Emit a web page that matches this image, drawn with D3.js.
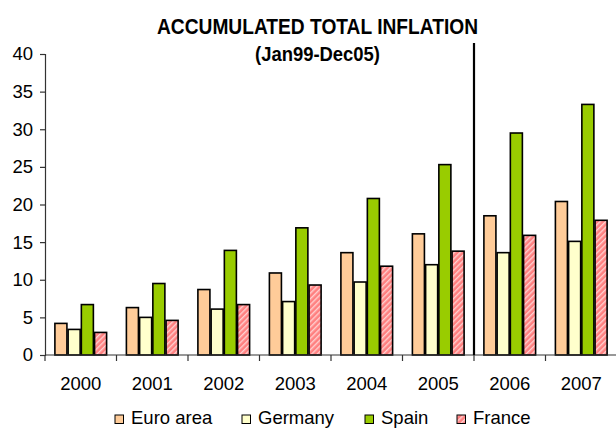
<!DOCTYPE html>
<html>
<head>
<meta charset="utf-8">
<script src="https://cdn.jsdelivr.net/npm/d3@7/dist/d3.min.js"></script>
<style>
  html, body { margin: 0; padding: 0; background: #fff; }
  svg { display: block; }
  text { font-family: "Liberation Sans", Arial, sans-serif; fill: #000; }
</style>
</head>
<body>
<svg id="chart" width="616" height="428"></svg>
<script>
// Accumulated total inflation (%), by year
const years = ["2000", "2001", "2002", "2003", "2004", "2005", "2006", "2007"];
const seriesNames = ["Euro area", "Germany", "Spain", "France"];
const euroArea = [4.2, 6.3, 8.7, 10.9, 13.6, 16.1, 18.5, 20.4];
const germany  = [3.4, 5.0, 6.1, 7.1, 9.7, 12.0, 13.6, 15.1];
const spain    = [6.7, 9.5, 13.9, 16.9, 20.8, 25.3, 29.5, 33.3];
const france   = [3.0, 4.6, 6.7, 9.3, 11.8, 13.8, 15.9, 17.9];
const yTicks = [0, 5, 10, 15, 20, 25, 30, 35, 40];
const forecastFrom = "2006";

const seriesValues = [euroArea, germany, spain, france];
const fills = ["#FFCC99", "#FFFFCC", "#99CC00", "url(#hatch)"];

const svg = d3.select("#chart");
const margin = { left: 45, right: -1, top: 54, bottom: 73 };
const W = 616, H = 428;

// striped fill for France
const defs = svg.append("defs");
const pat = defs.append("pattern")
  .attr("id", "hatch").attr("patternUnits", "userSpaceOnUse")
  .attr("width", 4).attr("height", 4)
  .attr("patternTransform", "rotate(45)");
pat.append("rect").attr("width", 4).attr("height", 4).attr("fill", "#FF8080");
pat.append("rect").attr("x", 0).attr("width", 1.4).attr("height", 4).attr("fill", "#FFD0D0");

const x0 = d3.scaleBand().domain(years)
  .range([margin.left, W - margin.right])
  .paddingInner(0.26).paddingOuter(0.13);
const x1 = d3.scaleBand().domain(seriesNames).range([0, x0.bandwidth()]);
const y = d3.scaleLinear().domain([0, 40]).range([H - margin.bottom, margin.top]);

// bars
const groups = svg.append("g").selectAll("g")
  .data(years).join("g")
  .attr("transform", d => `translate(${x0(d)},0)`);
groups.selectAll("rect")
  .data((yr, i) => seriesNames.map((s, k) => ({ s, k, v: seriesValues[k][i] })))
  .join("rect")
  .attr("x", d => x1(d.s) + 0.6)
  .attr("width", x1.bandwidth() - 1.2)
  .attr("y", d => y(d.v))
  .attr("height", d => y(0) - y(d.v))
  .attr("fill", d => fills[d.k])
  .attr("stroke", "#000")
  .attr("stroke-width", 1.6);

// y axis
const yAxis = svg.append("g")
  .attr("transform", `translate(${margin.left},0)`)
  .call(d3.axisLeft(y).tickValues(yTicks).tickSize(5).tickPadding(7));
yAxis.select(".domain").attr("stroke", "#333").attr("stroke-width", 1.2);
yAxis.selectAll(".tick line").attr("stroke", "#333").attr("stroke-width", 1.2);
yAxis.selectAll(".tick text").style("font-size", "18.5px")
  .style("font-family", "'Liberation Sans', Arial, sans-serif").attr("fill", "#000");

// x axis: ticks at category boundaries
const step = x0.step();
const boundaries = d3.range(years.length + 1).map(i => margin.left + i * step);
const xg = svg.append("g");
xg.append("line")
  .attr("x1", margin.left).attr("x2", W)
  .attr("y1", y(0)).attr("y2", y(0))
  .attr("stroke", "#333").attr("stroke-width", 1.2);
xg.selectAll("line.tk").data(boundaries).join("line")
  .attr("class", "tk")
  .attr("x1", d => d).attr("x2", d => d)
  .attr("y1", y(0)).attr("y2", y(0) + 6)
  .attr("stroke", "#333").attr("stroke-width", 1.2);
xg.selectAll("text").data(years).join("text")
  .attr("x", d => x0(d) + x0.bandwidth() / 2)
  .attr("y", y(0) + 35)
  .attr("text-anchor", "middle")
  .style("font-size", "18.5px")
  .text(d => d);

// divider between actual and projected years
const divX = x0(forecastFrom) - (step - x0.bandwidth()) / 2;
svg.append("line")
  .attr("x1", divX).attr("x2", divX)
  .attr("y1", 43).attr("y2", y(0))
  .attr("stroke", "#000").attr("stroke-width", 2.2);

// titles
svg.append("text")
  .attr("x", 157).attr("y", 34)
  .attr("textLength", 321).attr("lengthAdjust", "spacingAndGlyphs")
  .style("font-family", "'Liberation Sans Narrow', 'Arial Narrow', 'Liberation Sans', sans-serif")
  .style("font-weight", "bold").style("font-size", "21.5px")
  .text("ACCUMULATED TOTAL INFLATION");
svg.append("text")
  .attr("x", 255).attr("y", 61)
  .attr("textLength", 125).attr("lengthAdjust", "spacingAndGlyphs")
  .style("font-family", "'Liberation Sans Narrow', 'Arial Narrow', 'Liberation Sans', sans-serif")
  .style("font-weight", "bold").style("font-size", "20px")
  .text("(Jan99-Dec05)");

// legend
const legendX = [115, 242, 365, 457];
const legend = svg.append("g").selectAll("g")
  .data(seriesNames).join("g")
  .attr("transform", (d, i) => `translate(${legendX[i]},415)`);
legend.append("rect")
  .attr("width", 8.5).attr("height", 8.5)
  .attr("fill", (d, i) => fills[i])
  .attr("stroke", "#000").attr("stroke-width", 1);
legend.append("text")
  .attr("x", 16).attr("y", 8.5)
  .style("font-size", "18.5px")
  .text(d => d);
</script>
</body>
</html>
